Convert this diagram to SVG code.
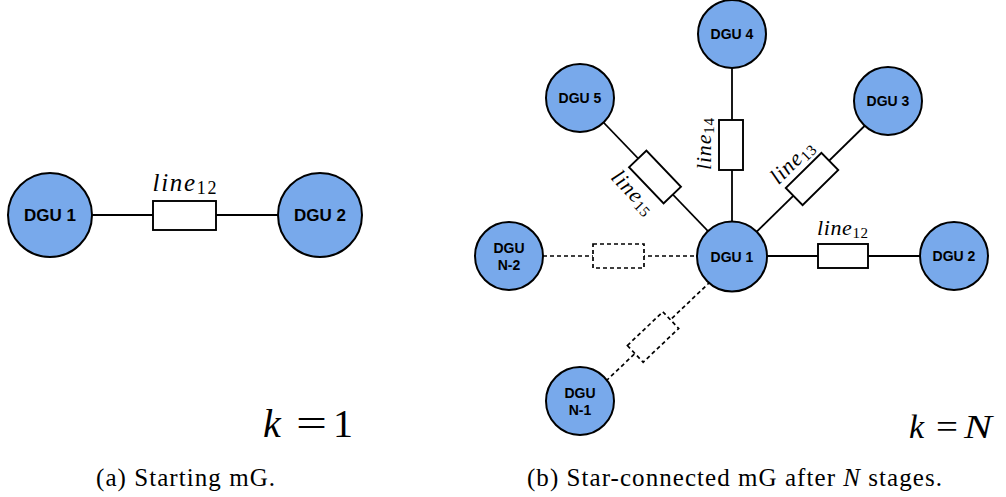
<svg xmlns="http://www.w3.org/2000/svg" width="1006" height="497" viewBox="0 0 1006 497">
<style>
.node{fill:#78a9eb;stroke:#000;stroke-width:2}
.wire{stroke:#000;stroke-width:1.8;fill:none}
.dash{stroke:#000;stroke-width:1.7;fill:none;stroke-dasharray:4 3}
.box{fill:#fff;stroke:#000;stroke-width:1.9}
.dbox{fill:#fff;stroke:#000;stroke-width:1.7;stroke-dasharray:4 3}
.lg{font-family:"Liberation Sans",Arial,sans-serif;font-weight:bold;font-size:17px;text-anchor:middle;fill:#000}
.sm{font-family:"Liberation Sans",Arial,sans-serif;font-weight:bold;font-size:14px;text-anchor:middle;fill:#000}
.ll{font-family:"Liberation Serif","Times New Roman",serif;font-style:italic;text-anchor:middle;fill:#000}
.sub{font-style:normal}
.math{font-family:"Liberation Serif","Times New Roman",serif;fill:#000}
.cap{font-family:"Liberation Serif","Times New Roman",serif;font-size:25px;fill:#000}
</style>
<rect width="1006" height="497" fill="#fff"/>
<g id="connectors">
<line class="wire" x1="50" y1="215" x2="320" y2="215"/>
<rect class="box" x="153" y="201" width="63" height="29"/>
<text class="ll" x="184.5" y="191" font-size="25" textLength="64">line<tspan class="sub" font-size="18" dy="3">12</tspan></text>

<line class="wire" x1="732" y1="256" x2="954" y2="256"/>
<rect class="box" x="818" y="244" width="50" height="24"/>
<text class="ll" x="842.5" y="235" font-size="22" textLength="51">line<tspan class="sub" font-size="15" dy="3">12</tspan></text>

<line class="wire" x1="732" y1="34" x2="732" y2="256"/>
<rect class="box" x="719" y="120" width="24" height="50"/>
<text class="ll" transform="translate(711,144) rotate(-90)" font-size="22" textLength="52">line<tspan class="sub" font-size="15" dy="3">14</tspan></text>

<line class="wire" x1="732" y1="256" x2="890" y2="101"/>
<rect class="box" x="-25" y="-12" width="50" height="24" transform="translate(812,179) rotate(-44.5)"/>
<text class="ll" transform="translate(797,167) rotate(-44.5)" font-size="22" textLength="52">line<tspan class="sub" font-size="15" dy="3">13</tspan></text>

<line class="wire" x1="580" y1="98" x2="732" y2="256"/>
<rect class="box" x="-25" y="-12" width="50" height="24" transform="translate(655,177) rotate(46.3)"/>
<text class="ll" transform="translate(628,197) rotate(46.3)" font-size="22" textLength="52">line<tspan class="sub" font-size="15" dy="3">15</tspan></text>

<line class="dash" x1="543" y1="256" x2="698" y2="256"/>
<rect class="dbox" x="593" y="244" width="51" height="24"/>

<line class="dash" x1="606" y1="381" x2="709" y2="283"/>
<rect class="dbox" x="-24.5" y="-11.5" width="49" height="23" transform="translate(653,337) rotate(-43.5)"/>
</g>
<g id="dgu1a"><circle class="node" cx="50" cy="215" r="42"/><text class="lg" x="50" y="221">DGU 1</text></g>
<g id="dgu2a"><circle class="node" cx="320" cy="215" r="42"/><text class="lg" x="320" y="221">DGU 2</text></g>

<g id="dgu1"><circle class="node" cx="732" cy="256.5" r="35"/><text class="sm" x="732" y="261.5">DGU 1</text></g>
<g id="dgu2"><circle class="node" cx="954" cy="256" r="34"/><text class="sm" x="954" y="261">DGU 2</text></g>
<g id="dgu3"><circle class="node" cx="888" cy="101" r="34"/><text class="sm" x="888" y="106">DGU 3</text></g>
<g id="dgu4"><circle class="node" cx="732" cy="34" r="34"/><text class="sm" x="732" y="39">DGU 4</text></g>
<g id="dgu5"><circle class="node" cx="580" cy="98" r="34"/><text class="sm" x="580" y="103">DGU 5</text></g>
<g id="dgun2"><circle class="node" cx="509" cy="256" r="34"/><text class="sm" x="509" y="253">DGU</text><text class="sm" x="509" y="270">N-2</text></g>
<g id="dgun1"><circle class="node" cx="580" cy="401" r="34"/><text class="sm" x="580" y="398">DGU</text><text class="sm" x="580" y="415">N-1</text></g>

<g id="k1">
<text class="math" x="263" y="437" font-size="40" font-style="italic">k</text>
<text class="math" x="296" y="437" font-size="40" textLength="31" lengthAdjust="spacingAndGlyphs">=</text>
<text class="math" x="333" y="437" font-size="40">1</text>
</g>
<g id="kN">
<text class="math" x="909" y="438" font-size="34" font-style="italic">k</text>
<text class="math" x="936" y="438" font-size="34" textLength="22" lengthAdjust="spacingAndGlyphs">=</text>
<text class="math" x="964" y="438" font-size="33" font-style="italic" textLength="28" lengthAdjust="spacingAndGlyphs">N</text>
</g>
<text class="cap" x="96" y="486" textLength="179">(a) Starting mG.</text>
<text class="cap" x="527" y="486" textLength="415">(b) Star-connected mG after <tspan font-style="italic">N</tspan> stages.</text>
</svg>
